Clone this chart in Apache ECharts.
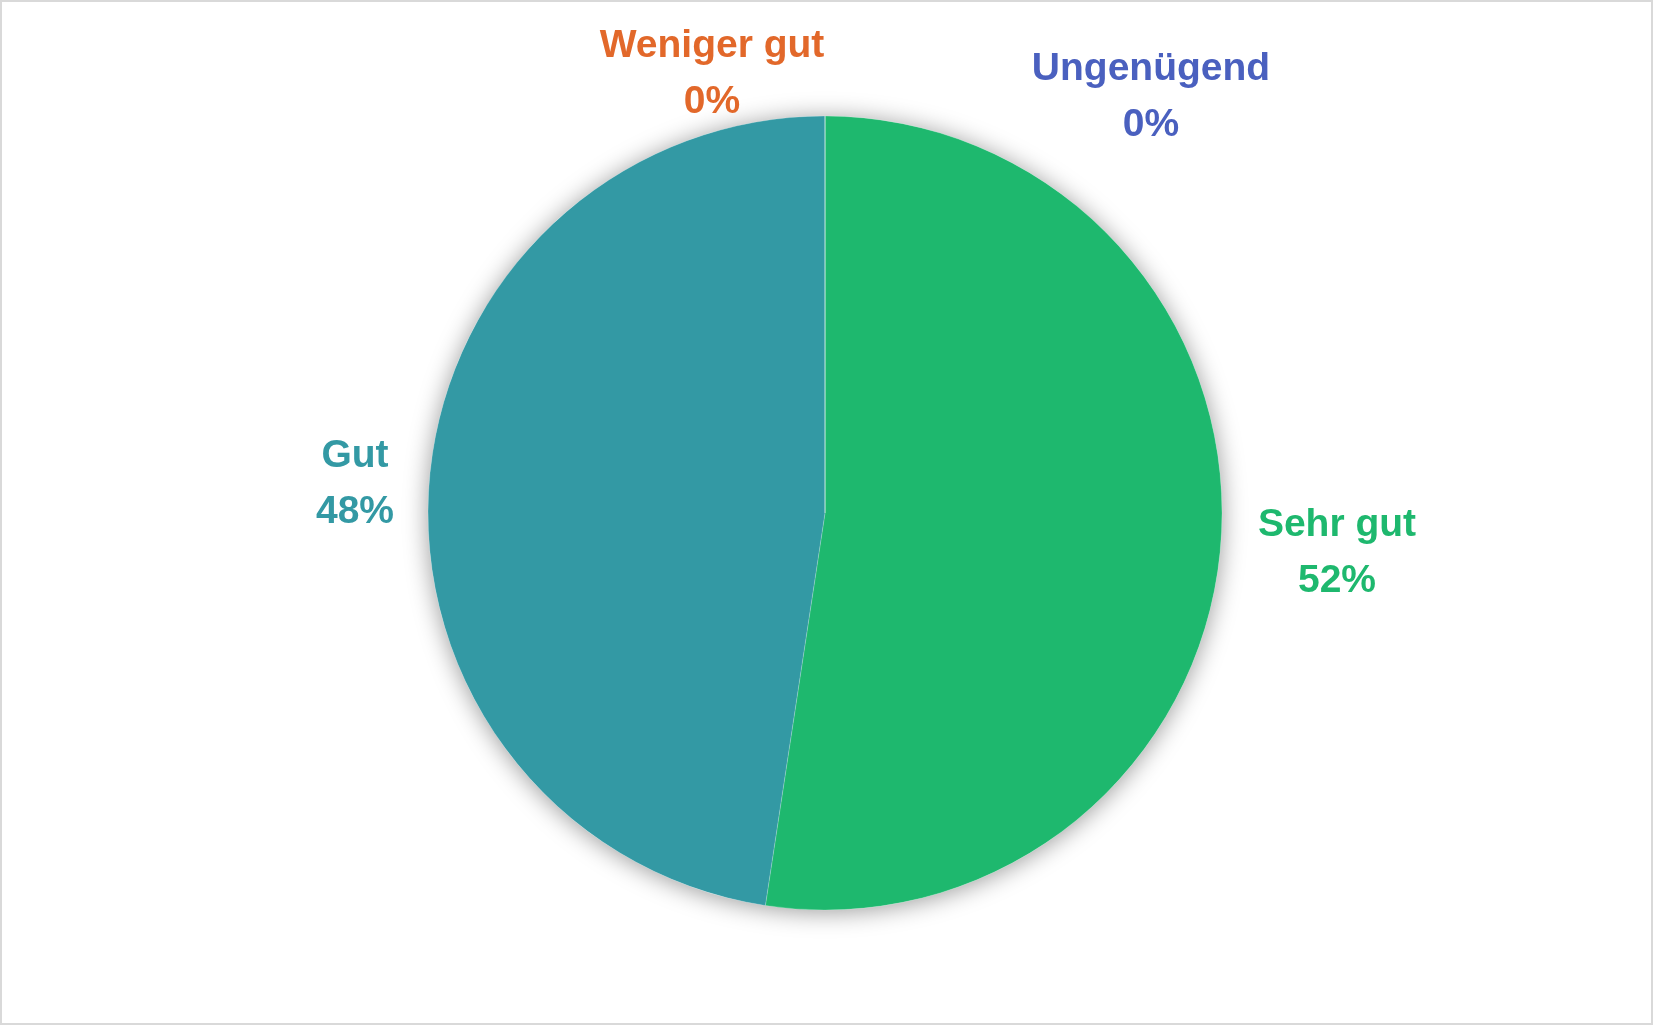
<!DOCTYPE html>
<html>
<head>
<meta charset="utf-8">
<script src="https://cdn.jsdelivr.net/npm/echarts@6/dist/echarts.min.js"></script>
<style>
  html, body { margin: 0; padding: 0; background: #fff; }
  #frame { position: absolute; left: 0; top: 0; width: 1653px; height: 1025px; box-sizing: border-box; border: 2px solid #D9D9D9; }
  #chart { position: absolute; left: 0; top: 0; width: 1653px; height: 1025px; }
</style>
</head>
<body>
<div id="chart"></div>
<div id="frame"></div>
<script>
// Data
const categories = ['Sehr gut', 'Gut', 'Weniger gut', 'Ungenügend'];
const shares = [52.4, 47.6, 0, 0];

// Styles
const sliceColors = ['#1EB86E', '#3399A4', '#E2682A', '#4A60BF'];
// label block centres (px) as laid out in the reference
const labelCentres = [[1337, 553], [355, 484], [712, 74], [1151, 97]];

const chart = echarts.init(document.getElementById('chart'), null, { renderer: 'canvas' });

const seriesData = categories.map((name, i) => ({
  name: name,
  value: shares[i],
  itemStyle: { color: sliceColors[i] },
  label: { color: sliceColors[i] }
}));

chart.setOption({
  animation: false,
  backgroundColor: '#ffffff',
  series: [
    {
      type: 'pie',
      silent: true,
      z: 1,
      center: ['825px', '513px'],
      radius: 397,
      label: { show: false },
      labelLine: { show: false },
      itemStyle: {
        color: '#ffffff',
        shadowBlur: 24,
        shadowColor: 'rgba(0,0,0,0.4)',
        shadowOffsetY: 2
      },
      data: [{ value: 1, name: '' }]
    },
    {
      type: 'pie',
      z: 2,
      center: ['825px', '513px'],
      radius: 397,
      startAngle: 90,
      clockwise: true,
      percentPrecision: 0,
      avoidLabelOverlap: false,
      itemStyle: { borderColor: 'rgba(255,255,255,0.3)', borderWidth: 0.6 },
      label: {
        show: true,
        position: 'outside',
        formatter: '{b}\n{d}%',
        fontFamily: '"Liberation Sans", Arial, sans-serif',
        fontWeight: 'bold',
        fontSize: 39,
        lineHeight: 56,
        align: 'center'
      },
      labelLine: { show: false },
      labelLayout: function (params) {
        const p = labelCentres[params.dataIndex];
        return { x: p[0], y: p[1], align: 'center', verticalAlign: 'middle' };
      },
      emphasis: { disabled: true },
      data: seriesData
    }
  ]
});
</script>
</body>
</html>
